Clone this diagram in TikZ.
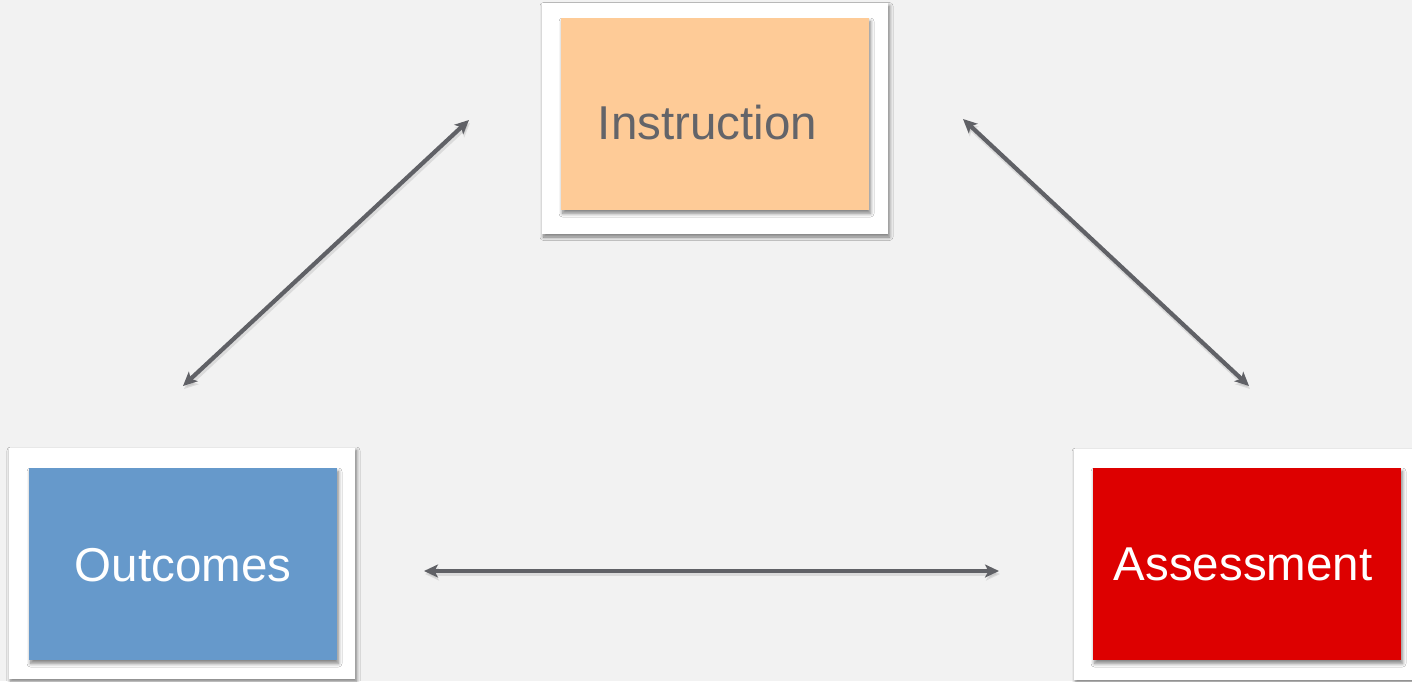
\documentclass[tikz,border=0pt]{standalone}
\usepackage{fontspec}
\setmainfont{Liberation Sans}
\usetikzlibrary{arrows.meta,shadows.blur}
\definecolor{bg}{HTML}{F2F2F2}
\definecolor{orangebox}{HTML}{FECB97}
\definecolor{bluebox}{HTML}{6699CB}
\definecolor{redbox}{HTML}{DD0000}
\definecolor{txtgray}{HTML}{636469}
\definecolor{arrowgray}{HTML}{606166}
\tikzset{
  outerbox/.style={fill=white, draw=none, minimum width=346pt, minimum height=231pt, inner sep=0pt,
    blur shadow={shadow xshift=1.5pt, shadow yshift=-3pt, shadow blur steps=8, shadow blur radius=3.5pt, shadow opacity=50}},
  innerbox/.style={draw=none, minimum width=308pt, minimum height=192pt, inner sep=0pt,
    blur shadow={shadow xshift=1.5pt, shadow yshift=-3.5pt, shadow blur steps=8, shadow blur radius=3.5pt, shadow opacity=50}},
  lbl/.style={font=\fontsize{47.5}{56}\selectfont, anchor=base, inner sep=0pt},
  link/.style={draw=arrowgray, line width=4.2pt, {Stealth[length=14pt,width=13pt,inset=3.5pt]}-{Stealth[length=14pt,width=13pt,inset=3.5pt]},
    preaction={draw=black!35, opacity=0.3, line width=4.5pt, transform canvas={xshift=1pt,yshift=-3pt}}}
}
\begin{document}
\begin{tikzpicture}[x=1pt,y=-1pt]
\useasboundingbox (0,0) rectangle (1412,681);
\fill[bg] (0,0) rectangle (1412,681);
% boxes
\node[outerbox] (instrOuter) at (715,118.5) {};
\node[innerbox, fill=orangebox] (instr) at (715,114) {};
\node[lbl, text=txtgray] (instrText) at (707.5,139) {Instruction};

\node[outerbox] (outOuter) at (182,563) {};
\node[innerbox, fill=bluebox] (out) at (183,564) {};
\node[lbl, text=white] (outText) at (183,581) {Outcomes};

\node[outerbox] (assOuter) at (1247,564) {};
\node[innerbox, fill=redbox] (ass) at (1247,564) {};
\node[lbl, text=white] (assText) at (1243,580) {Assessment};

% arrow ends
\coordinate (l1) at (183,386);
\coordinate (l2) at (469,120);
\coordinate (r1) at (963,119);
\coordinate (r2) at (1249,386);
\coordinate (h1) at (424,571);
\coordinate (h2) at (999,571);
\draw[link] (l1) -- (l2);
\draw[link] (r1) -- (r2);
\draw[link] (h1) -- (h2);
\end{tikzpicture}
\end{document}
